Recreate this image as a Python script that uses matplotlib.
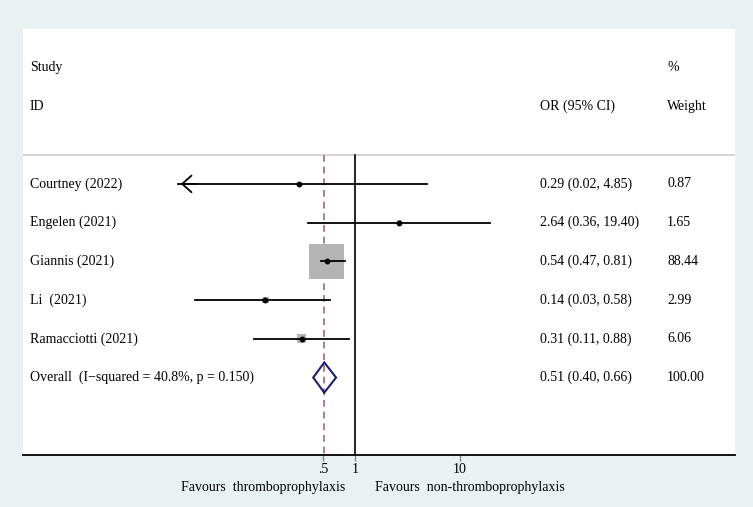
import numpy as np
import matplotlib.pyplot as plt
import matplotlib.transforms as mtransforms
from matplotlib.patches import Polygon

studies = ['Courtney (2022)', 'Engelen (2021)', 'Giannis (2021)', 'Li  (2021)', 'Ramacciotti (2021)']
odds = [0.29, 2.64, 0.54, 0.14, 0.31]
lower = [0.02, 0.36, 0.47, 0.03, 0.11]
upper = [4.85, 19.40, 0.81, 0.58, 0.88]
weights = [0.87, 1.65, 88.44, 2.99, 6.06]

overall_label = 'Overall  (I\u2212squared = 40.8%, p = 0.150)'
overall = [0.51, 0.40, 0.66]
overall_weight = 100.00

xticks = [0.5, 1, 10]
xtick_labels = ['.5', '1', '10']

plt.rcParams['font.family'] = ['Liberation Serif', 'DejaVu Serif']

bg = '#eaf1f2'
fig = plt.figure(figsize=(7.53, 5.07), dpi=100, facecolor=bg)
W, H = 753, 507
ax = fig.add_axes([23 / W, (H - 455) / H, (735 - 23) / W, (455 - 29) / H])
ax.set_facecolor('white')

# log scale: 1 at px 355, 105 px per decade
ax.set_xscale('log')
ax.set_xlim(10 ** ((23 - 355) / 105), 10 ** ((735 - 355) / 105))
ax.set_ylim(11, 0)
clip_lo = 10 ** ((178 - 355) / 105)

for s in ['top', 'left', 'right']:
    ax.spines[s].set_visible(False)
ax.spines['bottom'].set_linewidth(1.3)
ax.set_yticks([])
ax.set_xticks(xticks)
ax.set_xticklabels(xtick_labels, fontsize=10)
ax.xaxis.set_minor_locator(plt.NullLocator())
ax.tick_params(axis='x', length=4, color='#888888', width=1, pad=2)

# separator and reference lines
ax.axhline(3.25, color='#d6d6d6', lw=1.5)
ax.plot([1, 1], [3.25, 11], color='black', lw=1.2)
ax.plot([overall[0], overall[0]], [3.25, 11], color='#b57b82', lw=1.4,
        ls=(0, (3.5, 2.5)))

rows = np.arange(4, 4 + len(studies))
sizes = 25.2 ** 2 * np.array(weights) / max(weights)
ax.scatter(odds, rows, s=sizes, marker='s', color='#b4b4b4', zorder=3, linewidths=0)

for r, o, lo, hi in zip(rows, odds, lower, upper):
    if lo < clip_lo:
        ax.plot([clip_lo, hi], [r, r], color='black', lw=1.3, zorder=4)
        ax.annotate('', xy=(clip_lo, r), xytext=(clip_lo * 1.6, r),
                    arrowprops=dict(arrowstyle='->,head_length=0.45,head_width=0.4',
                                    color='black', lw=1.3, mutation_scale=15),
                    zorder=4)
    else:
        ax.plot([lo, hi], [r, r], color='black', lw=1.3, zorder=4)
ax.plot(odds, rows, 'o', color='black', ms=3.2, zorder=5)

# overall diamond
yo = rows[-1] + 1
dia = Polygon([(overall[1], yo), (overall[0], yo - 0.39), (overall[2], yo),
               (overall[0], yo + 0.39)], closed=True, facecolor='none',
              edgecolor='#1f1f70', lw=1.5, zorder=4)
ax.add_patch(dia)

# text columns
tr = mtransforms.blended_transform_factory(ax.transAxes, ax.transData)
def fx(px):
    return (px - 23) / (735 - 23)

fs = 10
ax.text(fx(30), 1, 'Study', transform=tr, fontsize=fs, va='center')
ax.text(fx(30), 2, 'ID', transform=tr, fontsize=fs, va='center')
ax.text(fx(540), 2, 'OR (95% CI)', transform=tr, fontsize=fs, va='center')
ax.text(fx(667), 1, '%', transform=tr, fontsize=fs, va='center')
ax.text(fx(667), 2, 'Weight', transform=tr, fontsize=fs, va='center')

for r, name, o, lo, hi, w in zip(rows, studies, odds, lower, upper, weights):
    ax.text(fx(30), r, name, transform=tr, fontsize=fs, va='center')
    ax.text(fx(540), r, f'{o:.2f} ({lo:.2f}, {hi:.2f})', transform=tr, fontsize=fs, va='center')
    ax.text(fx(667), r, f'{w:.2f}', transform=tr, fontsize=fs, va='center')

ax.text(fx(30), yo, overall_label, transform=tr, fontsize=fs, va='center')
ax.text(fx(540), yo, f'{overall[0]:.2f} ({overall[1]:.2f}, {overall[2]:.2f})',
        transform=tr, fontsize=fs, va='center')
ax.text(fx(667), yo, f'{overall_weight:.2f}', transform=tr, fontsize=fs, va='center')

# favours labels below axis
tb = mtransforms.blended_transform_factory(ax.transData, fig.transFigure)
ax.text(10 ** ((263 - 355) / 105), (H - 487) / H, 'Favours  thromboprophylaxis',
        transform=tb, fontsize=fs, ha='center', va='center')
ax.text(10 ** ((470 - 355) / 105), (H - 487) / H, 'Favours  non-thromboprophylaxis',
        transform=tb, fontsize=fs, ha='center', va='center')

fig.savefig('out.png', dpi=100, facecolor=bg)
